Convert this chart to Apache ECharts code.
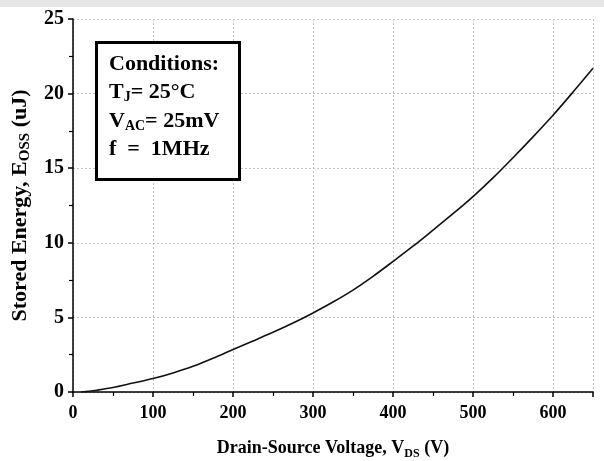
<!DOCTYPE html>
<html><head><meta charset="utf-8">
<script src="https://cdn.jsdelivr.net/npm/echarts@6/dist/echarts.min.js"></script>
<style>html,body{margin:0;padding:0;background:#fff}#c{width:604px;height:461px}</style>
</head><body><div id="c"></div>
<script>
const vds = [10, 20, 30, 50, 75, 100, 125, 150, 175, 200, 225, 250, 275, 300, 325, 350, 375, 400, 425, 450, 475, 500, 525, 550, 575, 600, 625, 650];
const eoss = [0, 0.05, 0.12, 0.3, 0.6, 0.9, 1.28, 1.72, 2.26, 2.85, 3.42, 4.0, 4.62, 5.3, 6.03, 6.83, 7.75, 8.75, 9.77, 10.85, 11.95, 13.1, 14.35, 15.7, 17.1, 18.55, 20.1, 21.7];
const xTicks = [0, 100, 200, 300, 400, 500, 600];
const yTicks = [0, 5, 10, 15, 20, 25];

const FONT = '"Liberation Serif","Times New Roman",serif';
const chart = echarts.init(document.getElementById('c'), null, {renderer: 'canvas'});
chart.setOption({
  animation: false,
  backgroundColor: '#fff',
  grid: {left: 73, right: 11, top: 19, bottom: 69, containLabel: false, outerBoundsMode: 'none'},
  xAxis: {
    type: 'value', min: 0, max: 650, interval: 100,
    axisLine: {show: true, lineStyle: {color: '#000', width: 1.5}},
    axisTick: {show: true, length: 5, lineStyle: {color: '#000', width: 1.5}},
    minorTick: {show: true, splitNumber: 2, length: 4, lineStyle: {color: '#000', width: 1.2}},
    splitLine: {show: true, lineStyle: {color: '#c4c4c4', type: [2, 2], width: 1}},
    axisLabel: {
      fontFamily: FONT, fontWeight: 'bold', fontSize: 18, color: '#000', margin: 12,
      formatter: v => xTicks.indexOf(v) >= 0 ? String(v) : ''
    },
    name: '{b|Drain-Source Voltage, V}{s|DS}{b| (V)}',
    nameLocation: 'middle', nameGap: 45,
    nameTextStyle: {
      rich: {
        b: {fontFamily: FONT, fontWeight: 'bold', fontSize: 18, color: '#000'},
        s: {fontFamily: FONT, fontWeight: 'bold', fontSize: 12, color: '#000', padding: [11, 0, 0, 0]}
      }
    }
  },
  yAxis: {
    type: 'value', min: 0, max: 25, interval: 5,
    axisLine: {show: true, lineStyle: {color: '#000', width: 1.5}},
    axisTick: {show: true, length: 5, lineStyle: {color: '#000', width: 1.5}},
    minorTick: {show: true, splitNumber: 2, length: 4, lineStyle: {color: '#000', width: 1.2}},
    splitLine: {show: true, lineStyle: {color: '#c4c4c4', type: [2, 2], width: 1}},
    axisLabel: {
      fontFamily: FONT, fontWeight: 'bold', fontSize: 20, color: '#000', margin: 9,
      formatter: v => yTicks.indexOf(v) >= 0 ? String(v) : ''
    },
    name: '{b|Stored Energy, E}{s|OSS}{b| (uJ)}',
    nameLocation: 'middle', nameGap: 36, nameRotate: 90,
    nameTextStyle: {
      rich: {
        b: {fontFamily: FONT, fontWeight: 'bold', fontSize: 22, color: '#000'},
        s: {fontFamily: FONT, fontWeight: 'bold', fontSize: 15, color: '#000', padding: [10, 0, 0, 0]}
      }
    }
  },
  series: [{
    type: 'line', data: vds.map((x, i) => [x, eoss[i]]),
    smooth: 0.3, showSymbol: false, symbol: 'none',
    lineStyle: {color: '#111', width: 1.6}
  }],
  graphic: [
    {type: 'rect', left: 0, top: 0, shape: {width: 604, height: 7}, style: {fill: '#e6e6e6'}, z: 10},
    {type: 'rect', left: 95, top: 41, shape: {width: 143, height: 137}, style: {fill: '#fff', stroke: '#000', lineWidth: 3}, z: 10},
    {type: 'text', left: 109, top: 53, z: 11, style: {
      text: '{b|Conditions:}\n{b|T}{s|J}{b|= 25°C}\n{b|V}{s|AC}{b|= 25mV}\n{b|f  =  1MHz}',
      rich: {
        b: {fontFamily: FONT, fontWeight: 'bold', fontSize: 22, fill: '#000', lineHeight: 28.5},
        s: {fontFamily: FONT, fontWeight: 'bold', fontSize: 14, fill: '#000', lineHeight: 28.5, padding: [10, 0, 0, 0]}
      }
    }}
  ]
});
</script></body></html>
